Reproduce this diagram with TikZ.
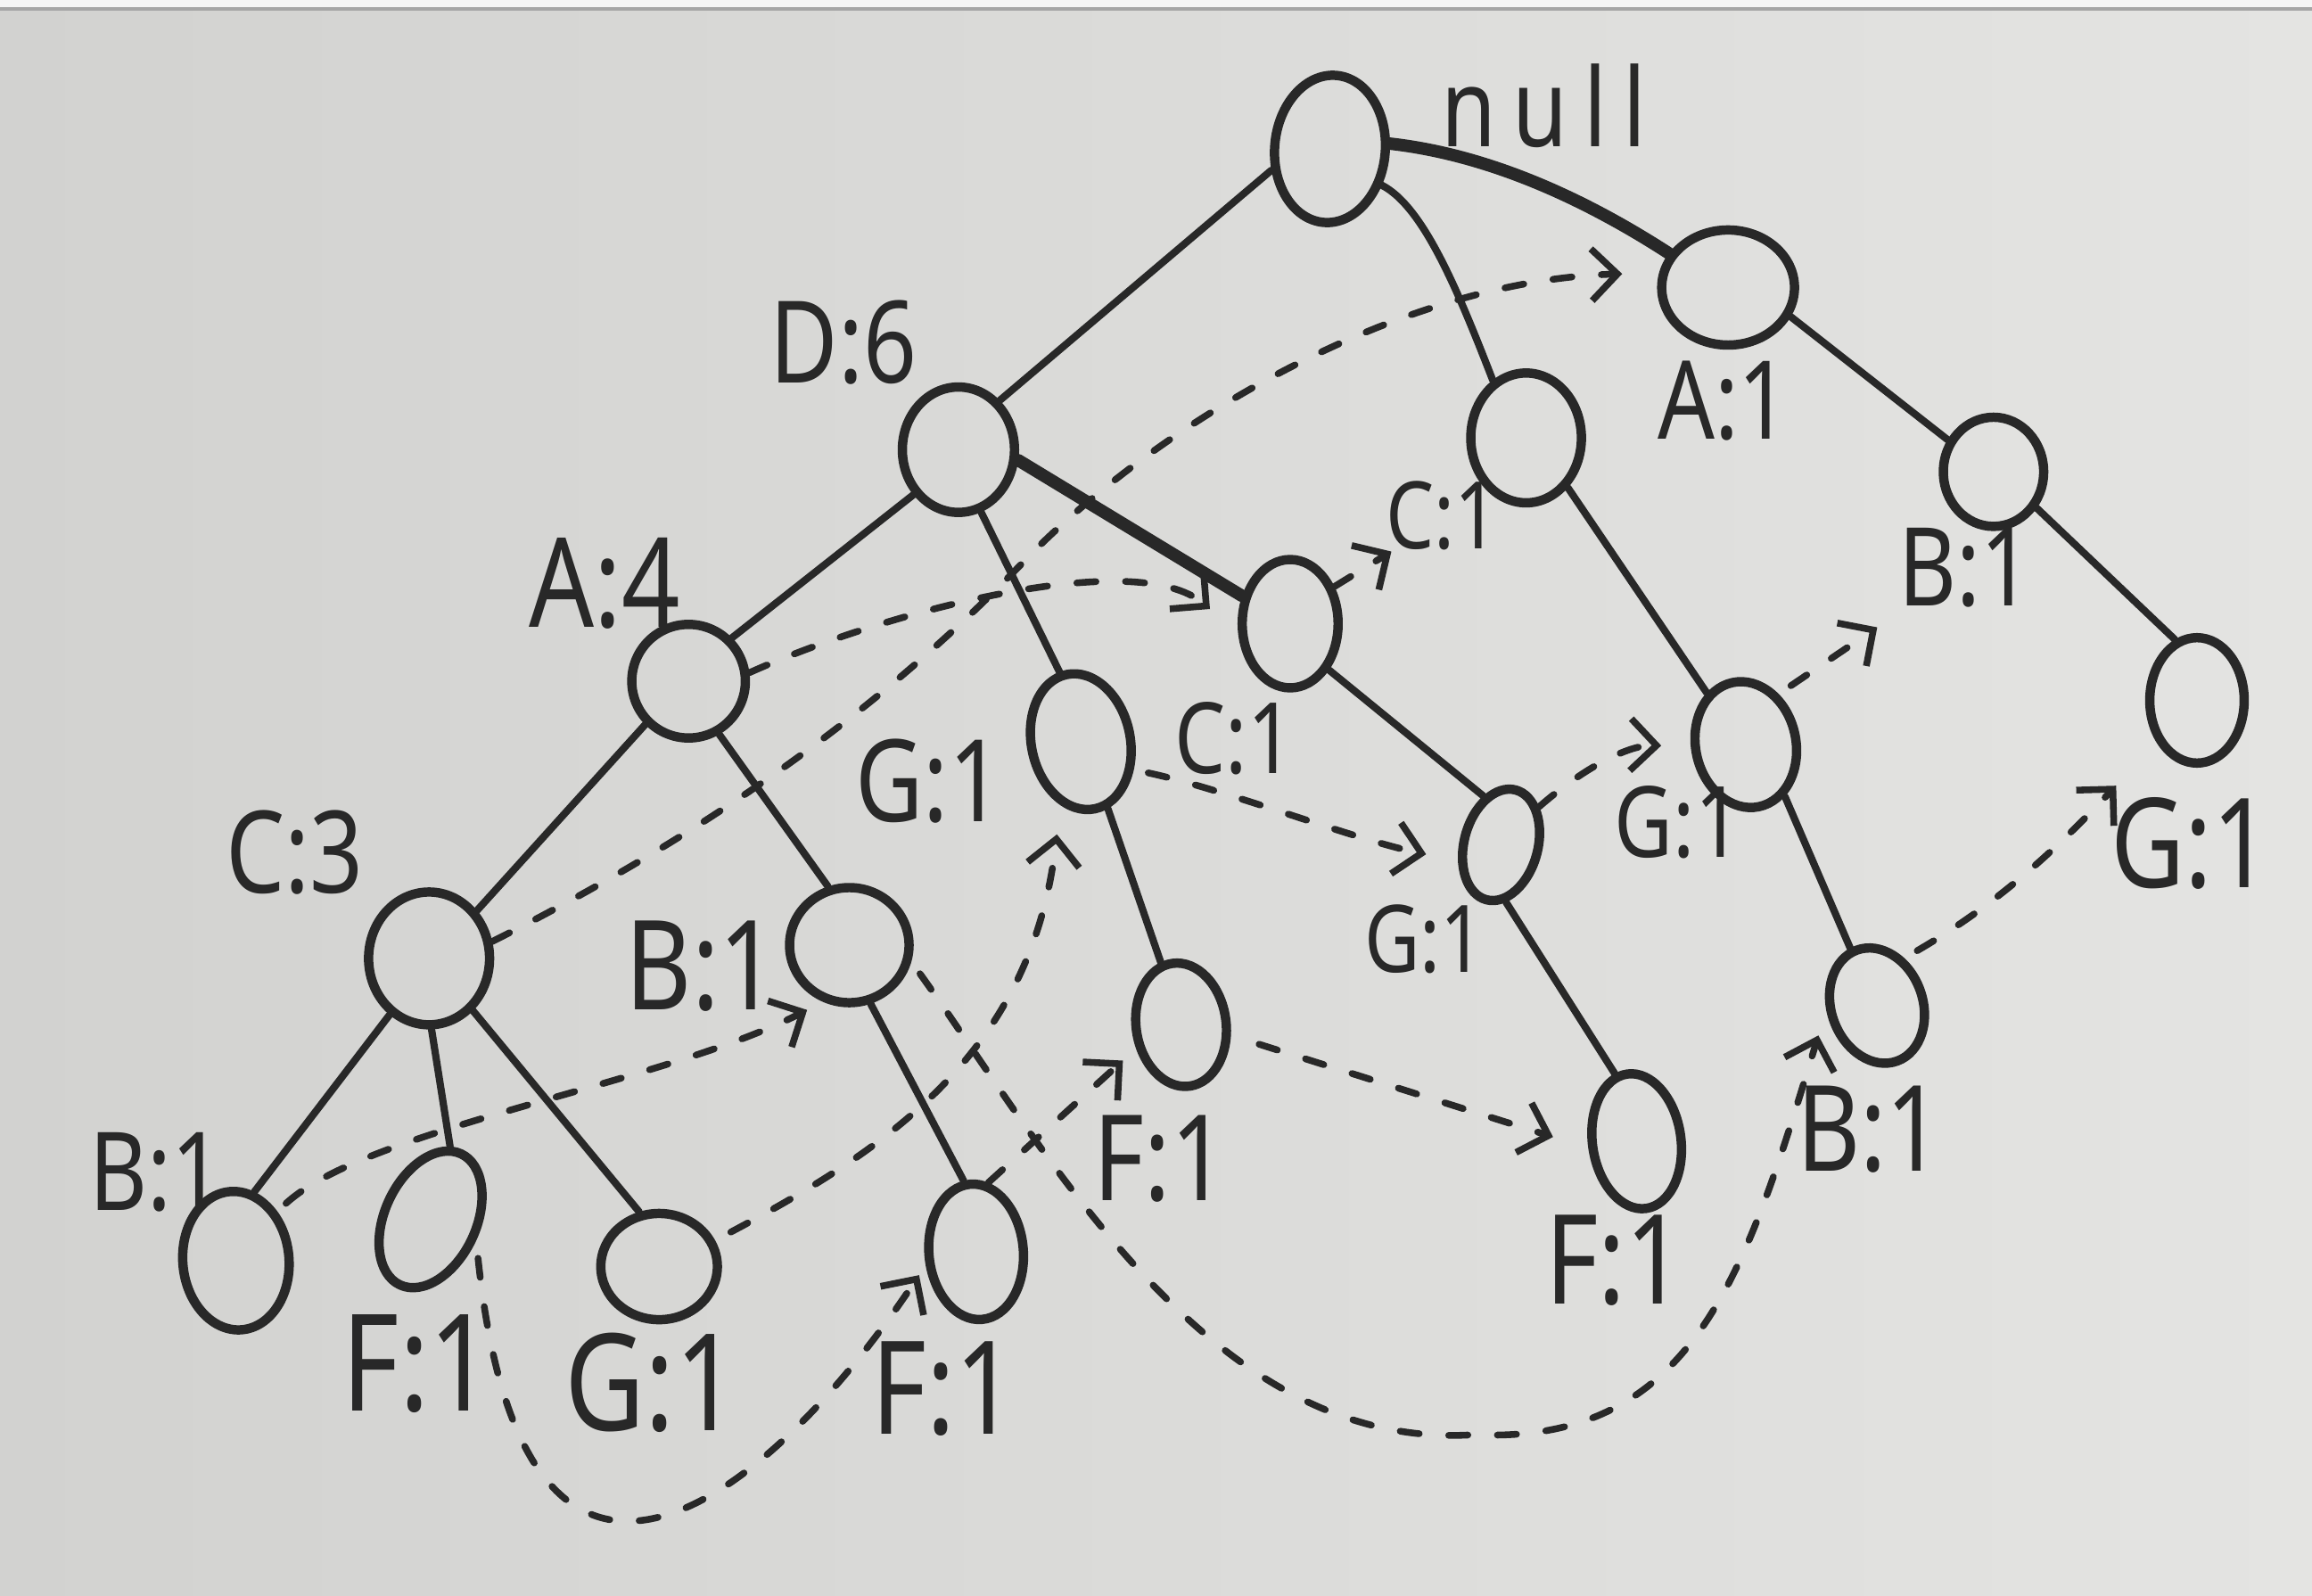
\documentclass[tikz,border=0pt]{standalone}
\usepackage{fontspec}
\setmainfont{Noto Sans}[FakeStretch=0.82]
\usetikzlibrary{arrows.meta,shapes.geometric}

\definecolor{ink}{RGB}{40,40,40}
\definecolor{boardL}{RGB}{210,210,208}
\definecolor{boardR}{RGB}{228,228,226}

\begin{document}
\begin{tikzpicture}[
    x = 0.01cm, y = 0.01cm, % one unit = one pixel of the photo
    > = {Straight Barb[length=5pt,width=10pt]}, % arrow head style
    line cap = round, % marker strokes
    line join = round
    ]

    \tikzset{
    fp/.style 2 args = {ellipse, draw = ink, line width = 1.8pt, inner sep = 0pt,
        minimum width = #1, minimum height = #2},
    lbl/.style = {inner sep = 0pt, text = ink, font = \fontsize{#1}{#1}\selectfont},
    lbl/.default = 22pt,
    branch/.style = {draw = ink, line width = 1.4pt},
    heavy/.style = {draw = ink, line width = 2.4pt},
    link/.style = {draw = ink, line width = 1.3pt, ->, dash pattern = on 0.13cm off 0.2cm}
    }

    % whiteboard
    \path[use as bounding box] (0,0) rectangle (1568,-1082);
    \fill[left color = boardL, right color = boardR] (0,0) rectangle (1568,-1082);
    \fill[gray!8] (0,0) rectangle (1568,-6);
    \draw[gray!70, line width = 0.8pt] (0,-6) -- (1568,-6);

    % tree nodes
    \node[fp={0.75cm}{1.0cm}, rotate=-5] (root) at (902,-101) {};
    \node[fp={0.76cm}{0.85cm}] (d6) at (650,-305) {};
    \node[fp={0.9cm}{0.78cm}] (a1) at (1172,-195) {};
    \node[fp={0.75cm}{0.88cm}] (c1n) at (1035,-297) {};
    \node[fp={0.68cm}{0.74cm}] (b1a) at (1352,-320) {};
    \node[fp={0.64cm}{0.85cm}] (g1b) at (1490,-475) {};
    \node[fp={0.68cm}{0.86cm}, rotate=12] (g1c) at (1184,-505) {};
    \node[fp={0.62cm}{0.8cm}, rotate=20] (b1g) at (1273,-682) {};
    \node[fp={0.77cm}{0.77cm}] (a4) at (467,-462) {};
    \node[fp={0.67cm}{0.93cm}, rotate=12] (g1d) at (733,-503) {};
    \node[fp={0.65cm}{0.87cm}] (c1d) at (875,-423) {};
    \node[fp={0.61cm}{0.84cm}, rotate=8] (f1g) at (801,-695) {};
    \node[fp={0.5cm}{0.77cm}, rotate=-15] (g1cd) at (1018,-573) {};
    \node[fp={0.6cm}{0.92cm}, rotate=8] (f1cd) at (1110,-774) {};
    \node[fp={0.82cm}{0.9cm}] (c3) at (291,-650) {};
    \node[fp={0.81cm}{0.78cm}] (b1a4) at (576,-641) {};
    \node[fp={0.64cm}{0.92cm}, rotate=5] (f1b) at (662,-849) {};
    \node[fp={0.72cm}{0.94cm}, rotate=5] (b1c) at (160,-855) {};
    \node[fp={0.62cm}{0.98cm}, rotate=-25] (f1c) at (292,-827) {};
    \node[fp={0.79cm}{0.72cm}] (g1c3) at (447,-859) {};

    % labels
    \node[lbl=21pt] (lroot) at (1047,-72) {\addfontfeatures{LetterSpace=15}null};
    \node[lbl] (ld6) at (572,-232) {D:6};
    \node[lbl=21pt] (la1) at (1169,-272) {A:1};
    \node[lbl=18pt] (lc1n) at (978,-350) {C:1};
    \node[lbl=21pt] (lb1a) at (1333,-385) {B:1};
    \node[lbl=24pt] (lg1b) at (1486,-572) {G:1};
    \node[lbl=19pt] (lg1c) at (1138,-558) {G:1};
    \node[lbl=23pt] (lb1g) at (1268,-766) {B:1};
    \node[lbl=24pt] (la4) at (410,-396) {A:4};
    \node[lbl] (lg1d) at (630,-530) {G:1};
    \node[lbl=19pt] (lc1d) at (837,-501) {C:1};
    \node[lbl=23pt] (lf1g) at (787,-786) {F:1};
    \node[lbl=18pt] (lg1cd) at (966,-637) {G:1};
    \node[lbl=24pt] (lf1cd) at (1095,-855) {F:1};
    \node[lbl] (lc3) at (200,-578) {C:3};
    \node[lbl=24pt] (lb1a4) at (476,-655) {B:1};
    \node[lbl=25pt] (lf1b) at (640,-942) {F:1};
    \node[lbl=21pt] (lb1c) at (106,-795) {B:1};
    \node[lbl=26pt] (lf1c) at (283,-925) {F:1};
    \node[lbl=26pt] (lg1c3) at (442,-938) {G:1};

    % branches
    \draw[branch] (root.205) -- (d6.50);
    \draw[branch] (root.-30) .. controls (965,-140) and (988,-195) .. (c1n.120);
    \draw[heavy] (root.10) .. controls (1010,-105) and (1075,-135) .. (a1.150);
    \draw[branch] (a1.-25) -- (b1a.145);
    \draw[branch] (b1a.-40) -- (g1b.110);
    \draw[branch] (c1n.-50) -- (g1c.115);
    \draw[branch] (g1c.-65) -- (b1g.95);
    \draw[branch] (d6.-135) -- (a4.45);
    \draw[branch] (d6.-70) -- (g1d.95);
    \draw[heavy] (d6.-10) -- (c1d.150);
    \draw[branch] (c1d.-50) -- (g1cd.125);
    \draw[branch] (g1cd.-70) -- (f1cd.100);
    \draw[branch] (g1d.-80) -- (f1g.100);
    \draw[branch] (a4.-135) -- (c3.45);
    \draw[branch] (a4.-60) -- (b1a4.110);
    \draw[branch] (b1a4.-70) -- (f1b.95);
    \draw[branch] (c3.-125) -- (b1c.70);
    \draw[branch] (c3.-88) -- (f1c.100);
    \draw[branch] (c3.-50) -- (g1c3.110);

    % node links
    \draw[link, shorten >=0.25cm] (a4.8) .. controls (600,-415) and (770,-370) .. (c1d.190);
    \draw[link, shorten >=0.25cm] (c3.15) .. controls (480,-565) and (600,-480) .. (700,-375)
        .. controls (790,-285) and (950,-190) .. (a1.168);
    \draw[link] (c1d.40) -- (lc1n.215);
    \draw[link, shorten <=0.12cm, shorten >=0.2cm] (g1c3.25) .. controls (600,-780) and (700,-715) .. (g1d.240);
    \draw[link, shorten <=0.1cm, shorten >=0.22cm] (g1d.-40) .. controls (830,-535) and (920,-570) .. (g1cd.215);
    \draw[link, shorten >=0.2cm] (g1cd.60) .. controls (1075,-520) and (1105,-505) .. (g1c.170);
    \draw[link, shorten <=0.1cm, shorten >=0.23cm] (g1c.45) -- (lb1a);
    \draw[link, shorten <=0.1cm, shorten >=0.4cm] (b1g.40) .. controls (1360,-610) and (1400,-570) .. (g1b);
    \draw[link, shorten <=0.08cm, shorten >=0.12cm] (b1c.45) .. controls (250,-765) and (450,-735) .. (b1a4.245);
    \draw[link, shorten <=0.1cm, shorten >=0.18cm] (b1a4.-15) .. controls (710,-780) and (820,-985) .. (1000,-973)
        .. controls (1150,-980) and (1185,-860) .. (b1g.165);
    \draw[link, shorten <=0.12cm, shorten >=0.08cm] (f1c.0) .. controls (355,-1150) and (520,-1020) .. (f1b.190);
    \draw[link, shorten >=0.12cm] (f1b.75) -- (f1g.200);
    \draw[link, shorten <=0.2cm, shorten >=0.25cm] (f1g.-20) -- (f1cd.180);
\end{tikzpicture}
\end{document}
